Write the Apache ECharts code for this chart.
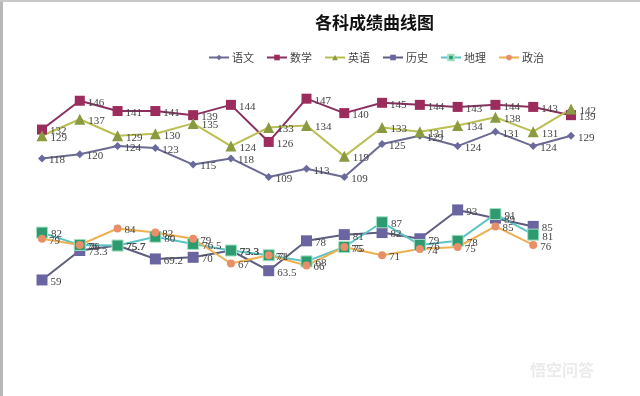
<!DOCTYPE html>
<html><head><meta charset="utf-8">
<script src="https://cdn.jsdelivr.net/npm/echarts@6/dist/echarts.min.js"></script>
<style>html,body{margin:0;padding:0;background:#fff}#c{width:640px;height:396px}</style>
</head><body><div id="c"></div>
<script>
const categories = ['1','2','3','4','5','6','7','8','9','10','11','12','13','14','15'];
const yuwen  = [118,120,124,123,115,118,109,113,109,125,129,124,131,124,129];
const shuxue = [132,146,141,141,139,144,126,147,140,145,144,143,144,143,139];
const yingyu = [129,137,129,130,135,124,133,134,119,133,131,134,138,131,142];
const lishi  = [59,73.3,75.7,69.2,70,73.3,63.5,78,81,82,79,93,89,85];
const dili   = [82,76,75.7,80,76.5,73.3,71,68,75,87,76,78,91,81];
const zhengzhi = [79,76,84,82,79,67,71,66,75,71,74,75,85,76];
const names = ['语文','数学','英语','历史','地理','政治'];

const chart = echarts.init(document.getElementById('c'));
const lbl = {show:true, position:'right', distance:3, fontSize:11, color:'#444', fontFamily:'Liberation Serif', offset:[0,2]};
function s(name, data, symbol, size, lineColor, markColor, border){
  return {name, type:'line', data, symbol, symbolSize:size, showSymbol:true,
    lineStyle:{color:lineColor, width:2}, itemStyle:{color:markColor, borderColor:border||markColor, borderWidth:border?1:0},
    label:lbl, animation:false};
}
chart.setOption({
  animation:false,
  title:{text:'各科成绩曲线图', left:310, top:9, textStyle:{fontSize:17, fontWeight:'bold', color:'#111', fontFamily:'Noto Sans CJK SC'}},
  legend:{data:names, left:203, top:47, itemWidth:20, itemHeight:7, itemGap:12, textStyle:{fontSize:11, color:'#444', fontFamily:'Noto Sans CJK SC', padding:[0,0,0,-2]}},
  grid:{left:42, right:69, top:92.5, bottom:97.5},
  xAxis:{type:'category', data:categories, boundaryGap:false, show:false},
  yAxis:{type:'value', min:50, max:150, show:false},
  graphic:[
    {type:'rect', shape:{x:0,y:0,width:3,height:396}, style:{fill:'#b8b8b8'}},
    {type:'rect', shape:{x:0,y:0,width:640,height:2}, style:{fill:'#c8c8c8'}},
    {type:'text', left:530, top:362, style:{text:'悟空问答', fill:'rgba(215,215,215,0.5)', font:'bold 16px "Noto Sans CJK SC"'}}
  ],
  series:[
    s('语文', yuwen, 'diamond', 8, '#6a6a92', '#6a6a9c'),
    s('数学', shuxue, 'rect', 10, '#8a3060', '#9b2c5c'),
    s('英语', yingyu, 'triangle', 11, '#b9bf52', '#8a9a40'),
    s('历史', lishi, 'rect', 11, '#5e5e80', '#6a64a0'),
    s('地理', dili, 'rect', 11, '#5cc4c4', '#2e9a70', '#9fe0c0'),
    s('政治', zhengzhi, 'circle', 8, '#f0b050', '#e88f6a')
  ]
});
</script></body></html>
